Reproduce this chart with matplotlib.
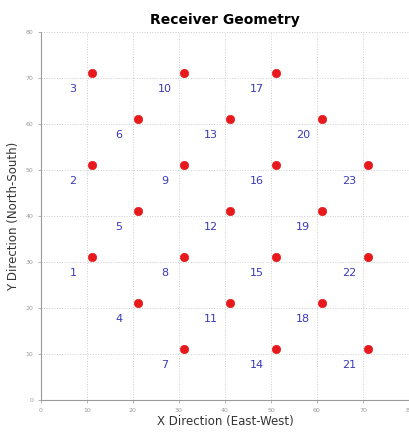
import matplotlib.pyplot as plt

# receiver positions (east-west, north-south)
rx_x = [11, 11, 11, 21, 21, 21, 31, 31, 31, 31, 41, 41, 41,
        51, 51, 51, 51, 61, 61, 61, 71, 71, 71]
rx_y = [31, 51, 71, 21, 41, 61, 11, 31, 51, 71, 21, 41, 61,
        11, 31, 51, 71, 21, 41, 61, 11, 31, 51]
rx_id = list(range(1, 24))

fig = plt.figure(figsize=(4.09, 4.32), dpi=100)
ax = fig.add_axes([0.1, 0.074, 0.9, 0.852])

ax.plot(rx_x, rx_y, 'o', color='#e8191c', markersize=6, markeredgewidth=0.5,
        markeredgecolor='#e8191c', zorder=3)
for x, y, n in zip(rx_x, rx_y, rx_id):
    ax.text(x - 4, y - 3.3, str(n), color='#3a3ab8', fontsize=8,
            ha='center', va='center')

ax.set_xlim(0, 80)
ax.set_ylim(0, 80)
ax.set_xticks(range(0, 81, 10))
ax.set_yticks(range(0, 81, 10))
ax.tick_params(labelsize=4.5, colors='#999999', length=2, width=0.5)
ax.grid(True, linestyle=':', color='#cccccc', linewidth=0.7)
for s in ax.spines.values():
    s.set_visible(False)
ax.spines['left'].set_visible(True)
ax.spines['bottom'].set_visible(True)
ax.spines['left'].set_color('#999999')
ax.spines['bottom'].set_color('#999999')

ax.set_title('Receiver Geometry', fontsize=10, fontweight='bold', pad=6)
ax.set_xlabel('X Direction (East-West)', fontsize=8.5, color='#333333', labelpad=2)
ax.set_ylabel('Y Direction (North-South)', fontsize=8.5, color='#333333', labelpad=4)

plt.savefig('out.png', dpi=100)
